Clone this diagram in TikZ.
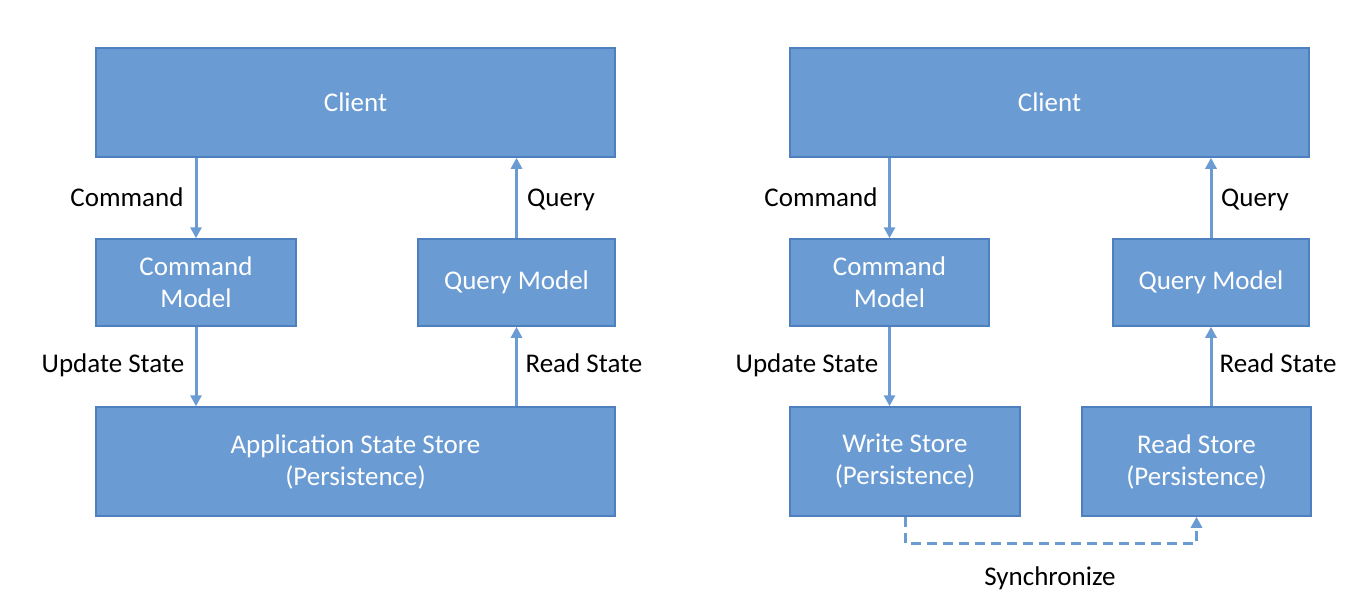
\documentclass[tikz,border=0pt]{standalone}
\usepackage{fontspec}
\setmainfont{Carlito}
\usetikzlibrary{arrows.meta}
\definecolor{boxfill}{HTML}{6A9BD2}
\definecolor{boxline}{HTML}{4E7FBE}
\definecolor{linkblue}{HTML}{6A9BD2}
\tikzset{
  block/.style={draw=boxline, line width=1.5pt, fill=boxfill, text=white,
    inner sep=0pt, align=center, font=\fontsize{27}{32}\selectfont},
  lbl/.style={text=black, inner sep=0pt, anchor=base, font=\fontsize{27}{32}\selectfont},
  arr/.style={draw=linkblue, line width=3pt,
    -{Triangle[length=11pt,width=11pt]}},
  syncarr/.style={arr, dash pattern=on 10pt off 6pt}
}
\begin{document}
\begin{tikzpicture}[x=1pt, y=-1pt]
\useasboundingbox (0,0) rectangle (1352,614);

% ---- monolithic model ----
\node[block, minimum width=519pt, minimum height=109pt] (clientL) at (355.5,102.5) {\raisebox{-1pt}{Client}};
\node[block, minimum width=200pt, minimum height=87pt] (cmdL) at (196,282.5) {Command\\Model};
\node[block, minimum width=197pt, minimum height=87pt] (qryL) at (516.5,282.5) {\raisebox{-3pt}{Query Model}};
\node[block, minimum width=519pt, minimum height=109pt] (storeL) at (355.5,461.5) {Application State Store\\(Persistence)};

\draw[arr] (clientL.south -| cmdL.north) -- (cmdL.north);
\draw[arr] (qryL.north) -- (qryL.north |- clientL.south);
\draw[arr] (cmdL.south) -- (cmdL.south |- storeL.north);
\draw[arr] (qryL.south |- storeL.north) -- (qryL.south);

\node[lbl] (cmdlblL) at (127,206) {Command};
\node[lbl] (qrylblL) at (561,206) {Query};
\node[lbl] (updlblL) at (113,372) {Update State};
\node[lbl] (rdlblL) at (584,372) {Read State};

% ---- separated read/write stores ----
\node[block, minimum width=519pt, minimum height=109pt] (clientR) at (1049.5,102.5) {\raisebox{-1pt}{Client}};
\node[block, minimum width=199pt, minimum height=87pt] (cmdR) at (889.5,282.5) {Command\\Model};
\node[block, minimum width=196pt, minimum height=87pt] (qryR) at (1211,282.5) {\raisebox{-3pt}{Query Model}};
\node[block, minimum width=230pt, minimum height=109pt] (writeR) at (905,461.5) {Write Store\\(Persistence)};
\node[block, minimum width=229pt, minimum height=109pt] (readR) at (1196.5,461.5) {Read Store\\(Persistence)};

\draw[arr] (clientR.south -| cmdR.north) -- (cmdR.north);
\draw[arr] (qryR.north) -- (qryR.north |- clientR.south);
\draw[arr] (cmdR.south) -- (cmdR.south |- writeR.north);
\draw[arr] (qryR.south |- readR.north) -- (qryR.south);

\coordinate (syncbend) at (905,543);
\draw[syncarr] (writeR.south) -- (syncbend) -| (readR.south);

\node[lbl] (cmdlblR) at (821,206) {Command};
\node[lbl] (qrylblR) at (1255,206) {Query};
\node[lbl] (updlblR) at (807,372) {Update State};
\node[lbl] (rdlblR) at (1278,372) {Read State};
\node[lbl] (synclbl) at (1050,585) {Synchronize};
\end{tikzpicture}
\end{document}
